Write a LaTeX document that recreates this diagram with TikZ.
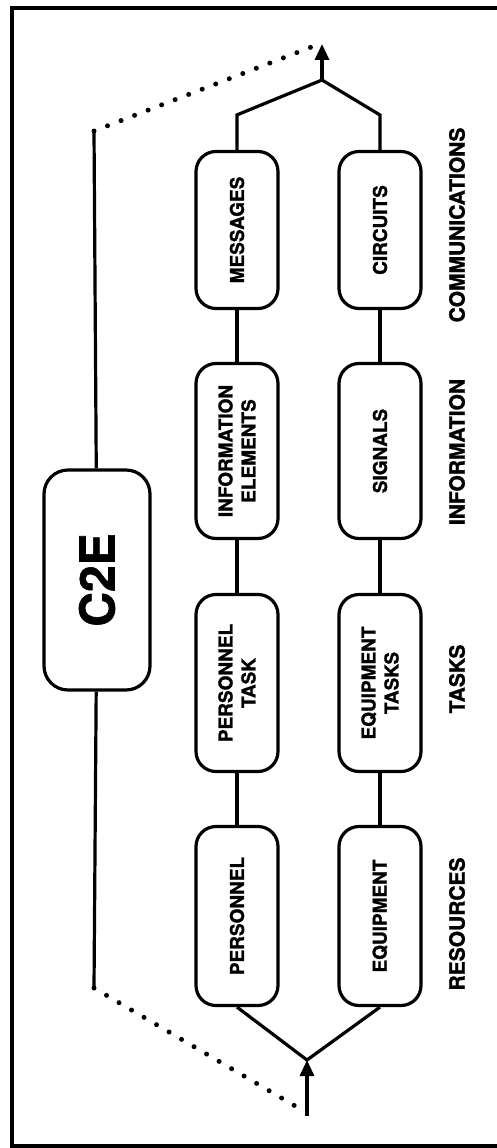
\documentclass[tikz,border=0pt]{standalone}
\usepackage{fontspec}
\setmainfont{TeX Gyre Heros}[BoldFeatures={FakeBold=1.3}]
\usetikzlibrary{arrows.meta}
\tikzset{
  caja/.style={draw, line width=3.2pt, rounded corners=20pt, rotate=90, align=center,
    minimum height=82pt, inner sep=2pt, font=\bfseries\fontsize{19}{23}\selectfont},
  etiqueta/.style={rotate=90, font=\bfseries\fontsize{21}{24}\selectfont},
  punteado/.style={line width=5pt, line cap=round, dash pattern=on 0pt off 14.5pt},
}
\begin{document}
\begin{tikzpicture}[x=1pt, y=-1pt, line width=3.2pt]
    \useasboundingbox (0,0) rectangle (496,1148);
    \draw[line width=3.6pt] (510,8) -- (12,8) -- (12,1146) -- (510,1146);

    % Cajas: fila superior y fila inferior
    \node[caja, minimum width=157pt] (msg)   at (237,230) {MESSAGES};
    \node[caja, minimum width=175pt] (info)  at (237,451) {INFORMATION\\ELEMENTS};
    \node[caja, minimum width=177pt] (ptask) at (237,683) {PERSONNEL\\TASK};
    \node[caja, minimum width=179pt] (pers)  at (237,916) {PERSONNEL};
    \node[caja, minimum width=157pt] (circ)  at (380,230) {CIRCUITS};
    \node[caja, minimum width=175pt] (sig)   at (380,451) {SIGNALS};
    \node[caja, minimum width=177pt] (etask) at (380,683) {EQUIPMENT\\TASKS};
    \node[caja, minimum width=179pt] (equip) at (380,916) {EQUIPMENT};
    \node[caja, minimum width=220pt, minimum height=106pt, rounded corners=24pt,
          font=\bfseries\fontsize{48}{50}\selectfont] (c2e) at (97,580) {C2E};

    % Etiquetas de columna
    \node[etiqueta] (lcom) at (457,225) {COMMUNICATIONS};
    \node[etiqueta] (linf) at (457,452) {INFORMATION};
    \node[etiqueta] (ltsk) at (457,679) {TASKS};
    \node[etiqueta] (lres) at (457,924) {RESOURCES};

    \draw (msg) -- (info) -- (ptask) -- (pers);
    \draw (circ) -- (sig) -- (etask) -- (equip);

    % Entrada abajo y salida arriba
    \coordinate (jbot) at (307,1060);
    \coordinate (tail) at (307,1116);
    \coordinate (jtop) at (322,80);
    \coordinate (tip)  at (322,44);
    \draw[-{Triangle[length=16pt, width=14pt]}] (tail) -- (jbot);
    \draw (pers.west) -- (jbot) -- (equip.west);
    \draw (msg.east) -- ++(0,-35) -- (jtop) -- (circ.east |- 0,115) -- (circ.east);
    \draw[-{Triangle[length=16pt, width=14pt]}] (jtop) -- (tip);

    % Camino de C2E con tramos punteados
    \coordinate (ltop) at (94,131);
    \coordinate (lbot) at (94,988);
    \draw (ltop) -- (c2e) -- (lbot);
    \draw[punteado] (ltop) -- (314,46);
    \draw[punteado] (lbot) -- (302,1110);
\end{tikzpicture}
\end{document}
